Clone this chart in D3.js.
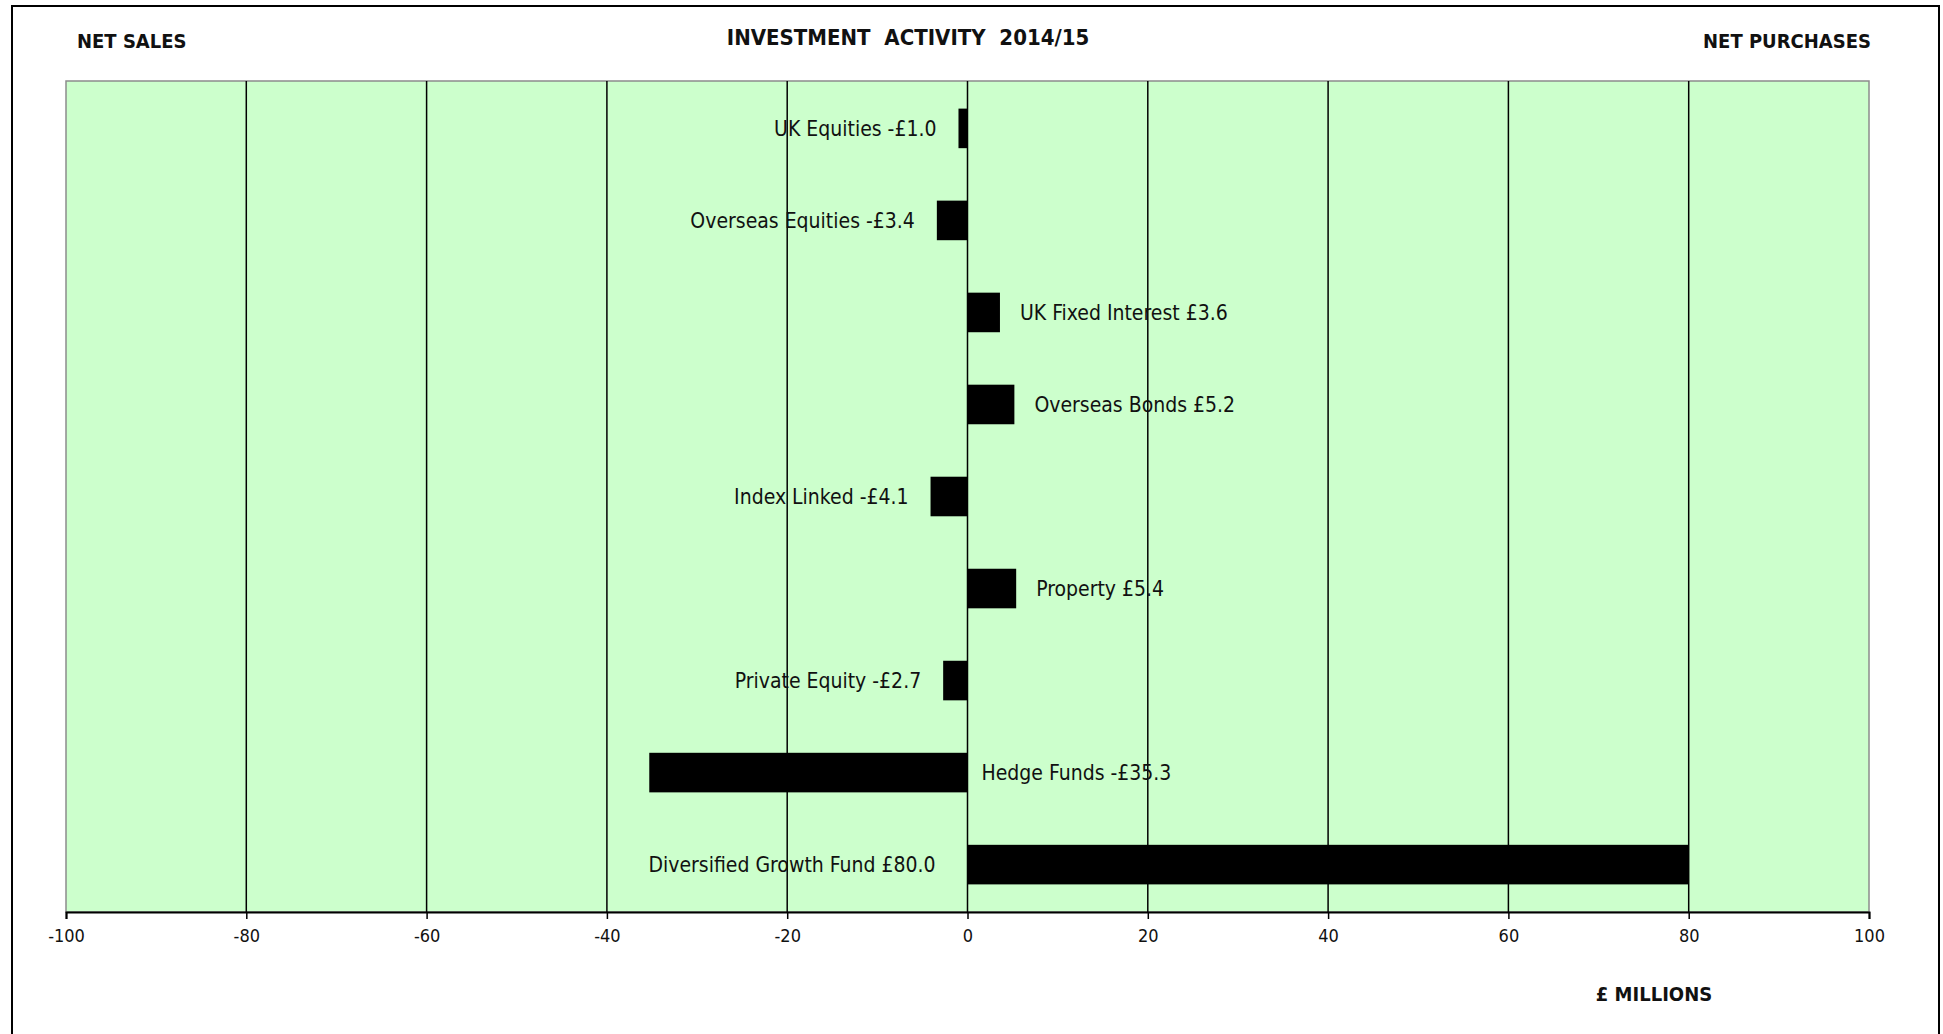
<!DOCTYPE html>
<html>
<head>
<meta charset="utf-8">
<script src="https://cdn.jsdelivr.net/npm/d3@7"></script>
<style>
  body { margin: 0; background: #fff; }
  text { font-family: "DejaVu Sans Condensed", "Liberation Sans Narrow", sans-serif; font-stretch: condensed; fill: #111; }
</style>
</head>
<body>
<script>
// chart values
var categories = ["UK Equities", "Overseas Equities", "UK Fixed Interest", "Overseas Bonds",
                  "Index Linked", "Property", "Private Equity", "Hedge Funds", "Diversified Growth Fund"];
var values = [-1.0, -3.4, 3.6, 5.2, -4.1, 5.4, -2.7, -35.3, 80.0];
var xTicks = [-100, -80, -60, -40, -20, 0, 20, 40, 60, 80, 100];
var titleText = "INVESTMENT  ACTIVITY  2014/15";
var leftNote = "NET SALES";
var rightNote = "NET PURCHASES";
var unitText = "£ MILLIONS";

var W = 1943, H = 1034;
var margin = {top: 81, right: 74, bottom: 122, left: 66};
var width = W - margin.left - margin.right;
var height = H - margin.top - margin.bottom;

var svg = d3.select("body").append("svg")
    .attr("width", W)
    .attr("height", H);

// outer frame (bottom runs off the page)
svg.append("path")
    .attr("d", "M12," + (H + 5) + "V6H1939V" + (H + 5))
    .attr("fill", "none")
    .attr("stroke", "#000")
    .attr("stroke-width", 2);

var g = svg.append("g")
    .attr("transform", "translate(" + margin.left + "," + margin.top + ")");

var xScale = d3.scaleLinear()
    .domain([-100, 100])
    .range([0, width]);

var yScale = d3.scaleBand()
    .domain(categories)
    .range([0, height])
    .paddingInner(0.57)
    .paddingOuter(0.3);

// plot background
g.append("rect")
    .attr("width", width)
    .attr("height", height)
    .attr("fill", "#ccffcc")
    .attr("stroke", "#8c8c8c")
    .attr("stroke-width", 1.5);

// vertical gridlines
g.selectAll(".grid")
    .data(xTicks.filter(function(d) { return d > -100 && d < 100; }))
  .enter().append("line")
    .attr("class", "grid")
    .attr("x1", function(d) { return xScale(d); })
    .attr("x2", function(d) { return xScale(d); })
    .attr("y1", 0)
    .attr("y2", height)
    .attr("stroke", "#000")
    .attr("stroke-width", 1.5);

// bars
g.selectAll(".bar")
    .data(values)
  .enter().append("rect")
    .attr("class", "bar")
    .attr("x", function(d) { return xScale(Math.min(0, d)); })
    .attr("y", function(d, i) { return yScale(categories[i]); })
    .attr("width", function(d) { return Math.abs(xScale(d) - xScale(0)); })
    .attr("height", yScale.bandwidth())
    .attr("fill", "#000");

// data labels: small bars get the label at the outer end,
// long bars get it on the other side of the zero line
g.selectAll(".lbl")
    .data(values)
  .enter().append("text")
    .attr("class", "lbl")
    .attr("x", function(d) {
        var big = Math.abs(d) > 20;
        if (big) return d < 0 ? xScale(0) + 14 : xScale(0) - 32;
        return d < 0 ? xScale(d) - 22 : xScale(d) + 20;
    })
    .attr("y", function(d, i) { return yScale(categories[i]) + yScale.bandwidth() / 2; })
    .attr("dy", "0.35em")
    .attr("text-anchor", function(d) {
        var big = Math.abs(d) > 20;
        return (d < 0) !== big ? "end" : "start";
    })
    .style("font-size", "21px")
    .text(function(d, i) {
        var s = d < 0 ? "-£" + Math.abs(d).toFixed(1) : "£" + d.toFixed(1);
        return categories[i] + " " + s;
    });

// x axis
var xAxis = g.append("g")
    .attr("transform", "translate(0," + height + ")")
    .call(d3.axisBottom(xScale).tickValues(xTicks).tickSize(7).tickPadding(10)
        .tickFormat(function(d) { return String(d); }));
xAxis.select(".domain").attr("stroke", "#000").attr("stroke-width", 2);
xAxis.selectAll(".tick line").attr("stroke", "#000").attr("stroke-width", 1.5);
xAxis.selectAll("text").style("font-size", "18px").attr("fill", "#111");

// titles
svg.append("text")
    .attr("x", 908)
    .attr("y", 37)
    .attr("dy", "0.35em")
    .attr("text-anchor", "middle")
    .style("font-size", "22px")
    .style("font-weight", "bold")
    .style("white-space", "pre")
    .text(titleText);

svg.append("text")
    .attr("x", 77)
    .attr("y", 41)
    .attr("dy", "0.35em")
    .style("font-size", "20px")
    .style("font-weight", "bold")
    .text(leftNote);

svg.append("text")
    .attr("x", 1871)
    .attr("y", 41)
    .attr("dy", "0.35em")
    .attr("text-anchor", "end")
    .style("font-size", "20px")
    .style("font-weight", "bold")
    .text(rightNote);

svg.append("text")
    .attr("x", 1654)
    .attr("y", 994)
    .attr("dy", "0.35em")
    .attr("text-anchor", "middle")
    .style("font-size", "20px")
    .style("font-weight", "bold")
    .text(unitText);
</script>
</body>
</html>
